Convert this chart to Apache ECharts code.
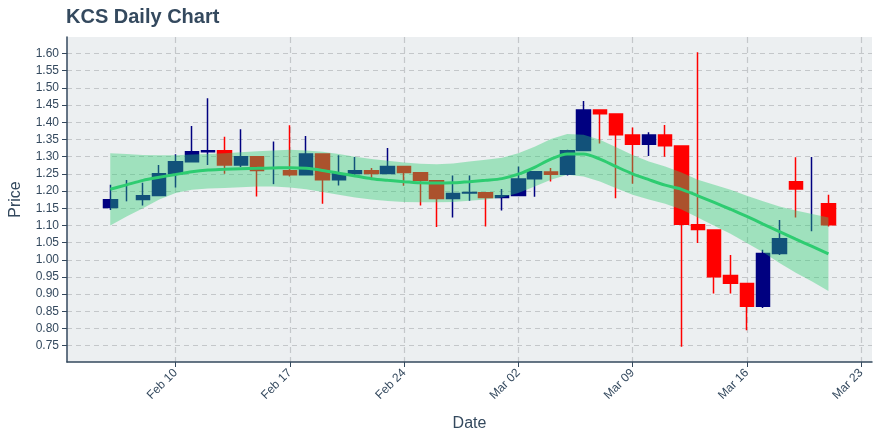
<!DOCTYPE html>
<html><head><meta charset="utf-8">
<script src="https://cdn.jsdelivr.net/npm/echarts@6/dist/echarts.min.js"></script>
<style>html,body{margin:0;padding:0;background:#fff}#c{width:880px;height:440px}</style>
</head><body><div id="c"></div>
<script>
const dates = ['2020-02-06','2020-02-07','2020-02-08','2020-02-09','2020-02-10','2020-02-11','2020-02-12','2020-02-13','2020-02-14','2020-02-15','2020-02-16','2020-02-17','2020-02-18','2020-02-19','2020-02-20','2020-02-21','2020-02-22','2020-02-23','2020-02-24','2020-02-25','2020-02-26','2020-02-27','2020-02-28','2020-02-29','2020-03-01','2020-03-02','2020-03-03','2020-03-04','2020-03-05','2020-03-06','2020-03-07','2020-03-08','2020-03-09','2020-03-10','2020-03-11','2020-03-12','2020-03-13','2020-03-14','2020-03-15','2020-03-16','2020-03-17','2020-03-18','2020-03-19','2020-03-20','2020-03-21'];
const open  = [1.152,1.200,1.175,1.187,1.250,1.285,1.314,1.317,1.276,1.300,1.280,1.259,1.247,1.308,1.2325,1.251,1.259,1.251,1.271,1.253,1.230,1.178,1.194,1.195,1.181,1.187,1.236,1.255,1.249,1.318,1.436,1.424,1.363,1.336,1.363,1.331,1.102,1.087,0.954,0.931,0.865,1.018,1.227,1.190,1.163];
const close = [1.1745,1.200,1.186,1.250,1.285,1.314,1.317,1.276,1.300,1.260,1.280,1.247,1.308,1.2325,1.250,1.259,1.251,1.271,1.254,1.231,1.178,1.193,1.196,1.181,1.186,1.235,1.256,1.249,1.317,1.436,1.425,1.364,1.336,1.363,1.332,1.103,1.088,0.951,0.932,0.865,1.018,1.061,1.206,1.190,1.102];
const low   = [1.145,1.170,1.158,1.187,1.210,1.285,1.276,1.250,1.270,1.184,1.220,1.242,1.247,1.163,1.216,1.242,1.235,1.251,1.215,1.158,1.095,1.123,1.172,1.097,1.143,1.187,1.183,1.228,1.245,1.318,1.338,1.179,1.221,1.302,1.300,0.747,1.049,0.902,0.902,0.795,0.860,1.014,1.123,1.083,1.097];
const high  = [1.218,1.232,1.224,1.276,1.307,1.389,1.470,1.358,1.380,1.300,1.344,1.391,1.360,1.308,1.304,1.299,1.267,1.325,1.271,1.253,1.230,1.245,1.245,1.195,1.206,1.271,1.256,1.267,1.320,1.462,1.436,1.424,1.385,1.371,1.392,1.331,1.604,1.087,1.014,0.931,1.029,1.116,1.298,1.299,1.189];
const trend = [1.205,1.218,1.231,1.240,1.248,1.256,1.261,1.263,1.265,1.266,1.267,1.268,1.266,1.260,1.252,1.244,1.236,1.231,1.227,1.224,1.223,1.224,1.227,1.231,1.236,1.249,1.269,1.293,1.308,1.308,1.293,1.271,1.250,1.233,1.217,1.205,1.186,1.167,1.147,1.126,1.104,1.082,1.060,1.039,1.017];
const bandUpper = [1.310,1.308,1.305,1.304,1.304,1.306,1.308,1.310,1.313,1.316,1.318,1.320,1.318,1.314,1.308,1.300,1.293,1.288,1.283,1.279,1.278,1.280,1.286,1.291,1.297,1.310,1.329,1.351,1.366,1.364,1.349,1.327,1.305,1.286,1.271,1.254,1.233,1.218,1.204,1.186,1.170,1.155,1.143,1.133,1.123];
const bandLower = [1.100,1.126,1.150,1.175,1.194,1.204,1.207,1.209,1.211,1.213,1.213,1.210,1.205,1.197,1.189,1.181,1.175,1.171,1.168,1.167,1.167,1.168,1.172,1.175,1.181,1.194,1.213,1.233,1.247,1.242,1.228,1.208,1.189,1.175,1.163,1.146,1.123,1.099,1.076,1.049,1.022,0.991,0.962,0.937,0.909];
const xTickDates = ['2020-02-10','2020-02-17','2020-02-24','2020-03-02','2020-03-09','2020-03-16','2020-03-23'];
const xTickLabels = ['Feb 10','Feb 17','Feb 24','Mar 02','Mar 09','Mar 16','Mar 23'];
const yTicks = [0.75,0.80,0.85,0.90,0.95,1.00,1.05,1.10,1.15,1.20,1.25,1.30,1.35,1.40,1.45,1.50,1.55,1.60];

const EPOCH = Date.UTC(2020,1,3);
const dayOf = s => { const p = s.split('-').map(Number); return (Date.UTC(p[0],p[1]-1,p[2]) - EPOCH)/864e5; };
const xs = dates.map(dayOf);
const xTicks = xTickDates.map(dayOf);

const candles = [], dojis = [];
xs.forEach((x,i)=>{
  const item = [x, open[i], close[i], low[i], high[i]];
  if (open[i] === close[i]) dojis.push(item); else candles.push(item);
});

const TXT = '#34495e';
const FONT = 'Liberation Sans, Arial, sans-serif';
const chart = echarts.init(document.getElementById('c'), null, {renderer:'canvas'});
chart.setOption({
  animation: false,
  backgroundColor: '#ffffff',
  title: { text: 'KCS Daily Chart', left: 61, top: 2, textStyle: { color: TXT, fontSize: 20, fontWeight: 'bold', fontFamily: FONT } },
  grid: { left: 66, right: 8, top: 37, bottom: 78, show: true, backgroundColor: '#ECEFF1', borderWidth: 0 },
  xAxis: {
    type: 'value', min: 0.35, max: 49.67,
    name: 'Date', nameLocation: 'middle', nameGap: 54,
    nameTextStyle: { color: TXT, fontSize: 16, fontFamily: FONT },
    axisLine: { show: true, onZero: false, lineStyle: { color: TXT, width: 1.5 } },
    axisTick: { show: true, length: 5, customValues: xTicks, lineStyle: { color: TXT } },
    axisLabel: { customValues: xTicks, rotate: 45, margin: 9, padding: [10,0,0,0], color: TXT, fontSize: 12, fontFamily: FONT,
      formatter: v => { const k = xTicks.indexOf(v); return k >= 0 ? xTickLabels[k] : ''; } },
    splitLine: { show: true, lineStyle: { color: '#c4c7ca', type: [6,4], width: 1.2 } }
  },
  yAxis: {
    type: 'value', min: 0.7027, max: 1.648,
    name: 'Price', nameLocation: 'middle', nameGap: 43,
    nameTextStyle: { color: TXT, fontSize: 16, fontFamily: FONT },
    axisLine: { show: true, onZero: false, lineStyle: { color: TXT, width: 1.5 } },
    axisTick: { show: true, length: 5, customValues: yTicks, lineStyle: { color: TXT } },
    axisLabel: { customValues: yTicks, margin: 8, color: TXT, fontSize: 12, fontFamily: FONT, formatter: v => v.toFixed(2) },
    splitLine: { show: true, lineStyle: { color: '#c4c7ca', type: [5,4], width: 1 } }
  },
  series: [
    { type: 'candlestick', data: candles, barWidth: 14, z: 2,
      itemStyle: { color: '#000080', color0: '#ff0000', borderColor: '#000080', borderColor0: '#ff0000', borderWidth: 1.5 } },
    { type: 'candlestick', data: dojis, barWidth: 1, z: 2,
      itemStyle: { color: '#000080', color0: '#000080', borderColor: '#000080', borderColor0: '#000080', borderColorDoji: '#000080', borderWidth: 1.5 } },
    { type: 'custom', z: 3, silent: true, clip: true,
      data: [[xs[0], bandLower[0]]],
      renderItem: (params, api) => {
        const pts = [];
        for (let i = 0; i < xs.length; i++) pts.push(api.coord([xs[i], bandUpper[i]]));
        for (let i = xs.length - 1; i >= 0; i--) pts.push(api.coord([xs[i], bandLower[i]]));
        return { type: 'polygon', shape: { points: pts }, style: { fill: 'rgba(46,204,113,0.4)' } };
      } },
    { type: 'line', data: xs.map((x,i)=>[x, trend[i]]), symbol: 'none', smooth: 0.3, lineStyle: { color: '#2ecc71', width: 3 }, z: 4, silent: true }
  ]
});
</script></body></html>
